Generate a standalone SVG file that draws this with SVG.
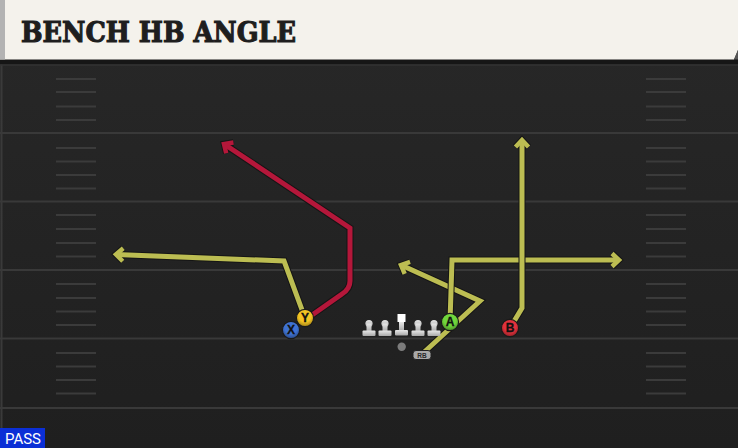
<svg xmlns="http://www.w3.org/2000/svg" width="738" height="448" viewBox="0 0 738 448">
  <defs>
    <linearGradient id="field" x1="0" y1="0" x2="0" y2="1">
      <stop offset="0" stop-color="#282828"/>
      <stop offset="1" stop-color="#1f1f1f"/>
    </linearGradient>
    <linearGradient id="ol" x1="0" y1="0" x2="0" y2="1">
      <stop offset="0" stop-color="#e8e8e8"/>
      <stop offset="1" stop-color="#a8a8a8"/>
    </linearGradient>
    <radialGradient id="shade" cx="0.5" cy="0.35" r="0.65">
      <stop offset="0.6" stop-color="#000" stop-opacity="0"/>
      <stop offset="1" stop-color="#000" stop-opacity="0.3"/>
    </radialGradient>
    <marker id="ao" markerUnits="userSpaceOnUse" orient="auto" markerWidth="30" markerHeight="30" refX="0" refY="0" viewBox="-15 -15 30 30" overflow="visible">
      <path d="M -7 -6.5 L 0 0 L -7 6.5" fill="none" stroke="#151515" stroke-width="6.5" stroke-linejoin="miter"/>
    </marker>
    <marker id="ay" markerUnits="userSpaceOnUse" orient="auto" markerWidth="30" markerHeight="30" refX="0" refY="0" viewBox="-15 -15 30 30" overflow="visible">
      <path d="M -7 -6.5 L 0 0 L -7 6.5" fill="none" stroke="#bcbd52" stroke-width="4.5" stroke-linejoin="miter"/>
    </marker>
    <marker id="ar" markerUnits="userSpaceOnUse" orient="auto" markerWidth="30" markerHeight="30" refX="0" refY="0" viewBox="-15 -15 30 30" overflow="visible">
      <path d="M -7 -6.5 L 0 0 L -7 6.5" fill="none" stroke="#b4173a" stroke-width="4.5" stroke-linejoin="miter"/>
    </marker>
    <style>
      .yard { stroke: #393939; stroke-width: 2; }
      .hash { stroke: #3b3b3b; stroke-width: 2; }
      .out { fill: none; stroke: #151515; stroke-width: 7; stroke-linejoin: miter; }
      .ylw { fill: none; stroke: #bcbd52; stroke-width: 5; stroke-linejoin: miter; }
      .red { fill: none; stroke: #b4173a; stroke-width: 5; stroke-linejoin: miter; }
      .pc { stroke: #1a1a1a; stroke-width: 1.2; }
      .sh { fill: url(#shade); }
      .pl { font-family: "Liberation Sans", Arial, sans-serif; font-weight: bold; font-size: 12px; fill: #111; text-anchor: middle; stroke: #111; stroke-width: 0.3; }
      .olp { fill: url(#ol); }
    </style>
  </defs>

  <!-- field -->
  <rect x="0" y="0" width="738" height="448" fill="url(#field)"/>
  <line x1="1.5" y1="59" x2="1.5" y2="448" stroke="#3a3a3a" stroke-width="2"/>

  <!-- yard lines -->
  <g id="yardlines">
    <line class="yard" x1="0" y1="133" x2="738" y2="133"/>
    <line class="yard" x1="0" y1="201.5" x2="738" y2="201.5"/>
    <line class="yard" x1="0" y1="270" x2="738" y2="270"/>
    <line class="yard" x1="0" y1="338.5" x2="738" y2="338.5"/>
    <line class="yard" x1="0" y1="408" x2="738" y2="408"/>
  </g>

  <!-- hash marks -->
  <g id="hashes">
    <path class="hash" d="M56 79H96M56 92H96M56 106.5H96M56 120H96M56 148H96M56 161.5H96M56 175H96M56 188.5H96M56 215H96M56 229H96M56 243H96M56 256.5H96M56 284H96M56 298H96M56 311.5H96M56 325H96M56 353H96M56 366.5H96M56 380H96M56 393.5H96"/>
    <path class="hash" d="M646 79H686M646 92H686M646 106.5H686M646 120H686M646 148H686M646 161.5H686M646 175H686M646 188.5H686M646 215H686M646 229H686M646 243H686M646 256.5H686M646 284H686M646 298H686M646 311.5H686M646 325H686M646 353H686M646 366.5H686M646 380H686M646 393.5H686"/>
  </g>

  <!-- header -->
  <g id="header">
    <rect x="0" y="59" width="738" height="5.5" fill="#161616"/>
    <line x1="0" y1="65" x2="738" y2="65" stroke="#333" stroke-width="1.5"/>
    <polygon points="0,0 738,0 738,50 734,59.5 0,59.5" fill="#f4f2ec"/>
    <polygon points="738,50 734,59.5 738,59.5" fill="#555"/>
    <rect x="0" y="0" width="5" height="59.5" fill="#b3b3b3"/>
    <text x="21" y="42" font-family="'DejaVu Serif', 'Liberation Serif', serif" font-weight="900" font-size="27" fill="#1e1e1e" stroke="#1e1e1e" stroke-width="1.1" stroke-linejoin="miter" textLength="275" lengthAdjust="spacingAndGlyphs">BENCH HB ANGLE</text>
  </g>

  <!-- routes -->
  <g id="connectors">
    <g id="route-y">
      <path class="out" marker-end="url(#ao)" d="M305 318 L284 261 L116 254.5"/>
      <path class="ylw" marker-end="url(#ay)" d="M305 318 L284 261 L116 254.5"/>
    </g>
    <g id="route-x">
      <path class="out" marker-end="url(#ao)" d="M305 320 L342 294 Q350 289 350 281 L350 228 L224 144"/>
      <path class="red" marker-end="url(#ar)" d="M305 320 L342 294 Q350 289 350 281 L350 228 L224 144"/>
    </g>
    <g id="route-rb">
      <path class="out" marker-end="url(#ao)" d="M421 355 L480 301 L401 265"/>
      <path class="ylw" marker-end="url(#ay)" d="M421 355 L480 301 L401 265"/>
    </g>
    <g id="route-a">
      <path class="out" marker-end="url(#ao)" d="M450 322 L452 260 L619 260"/>
      <path class="ylw" marker-end="url(#ay)" d="M450 322 L452 260 L619 260"/>
    </g>
    <g id="route-b">
      <path class="out" marker-end="url(#ao)" d="M510 328 L522 308 L522 140"/>
      <path class="ylw" marker-end="url(#ay)" d="M510 328 L522 308 L522 140"/>
    </g>
  </g>

  <!-- offensive line -->
  <g id="ol-1"><circle class="olp" cx="369" cy="323.5" r="3.6"/><rect class="olp" x="366.5" y="323.5" width="5" height="8"/><rect class="olp" x="362.5" y="330.5" width="13" height="5.5" rx="1"/></g>
  <g id="ol-2"><circle class="olp" cx="385" cy="323.5" r="3.6"/><rect class="olp" x="382.5" y="323.5" width="5" height="8"/><rect class="olp" x="378.5" y="330.5" width="13" height="5.5" rx="1"/></g>
  <g id="center"><rect x="397.5" y="314" width="8" height="8" fill="#ffffff"/><rect class="olp" x="399" y="322" width="5" height="9"/><rect class="olp" x="395" y="330" width="13" height="5.5" rx="1"/></g>
  <g id="ol-4"><circle class="olp" cx="418" cy="323.5" r="3.6"/><rect class="olp" x="415.5" y="323.5" width="5" height="8"/><rect class="olp" x="411.5" y="330.5" width="13" height="5.5" rx="1"/></g>
  <g id="ol-5"><circle class="olp" cx="434" cy="323.5" r="3.6"/><rect class="olp" x="431.5" y="323.5" width="5" height="8"/><rect class="olp" x="427.5" y="330.5" width="13" height="5.5" rx="1"/></g>

  <!-- QB -->
  <g id="qb"><circle cx="401.7" cy="346.7" r="4.2" fill="#7c7c7c"/></g>

  <!-- RB -->
  <g id="rb">
    <rect x="413" y="350.5" width="18" height="9" rx="3" fill="#a9a9a9" stroke="#222" stroke-width="1"/>
    <text x="422" y="358" font-family="'Liberation Sans', Arial, sans-serif" font-weight="bold" font-size="6.5" fill="#2a2a2a" text-anchor="middle">RB</text>
  </g>

  <!-- receivers -->
  <g id="player-x"><circle class="pc" cx="291" cy="330" r="8.6" fill="#3f72d2"/><circle class="sh" cx="291" cy="330" r="8"/><text class="pl" x="291" y="334.3">X</text></g>
  <g id="player-y"><circle class="pc" cx="305" cy="318" r="8.6" fill="#f3c423"/><circle class="sh" cx="305" cy="318" r="8"/><text class="pl" x="305" y="322.3">Y</text></g>
  <g id="player-a"><circle class="pc" cx="450" cy="322" r="8.6" fill="#70d63c"/><circle class="sh" cx="450" cy="322" r="8"/><text class="pl" x="450" y="326.3">A</text></g>
  <g id="player-b"><circle class="pc" cx="510" cy="328" r="8.6" fill="#e2323c"/><circle class="sh" cx="510" cy="328" r="8"/><text class="pl" x="510" y="332.3">B</text></g>

  <!-- play type -->
  <g id="pass-label">
    <rect x="0" y="428" width="45" height="20" fill="#0b2fd6"/>
    <text x="5" y="444" font-family="Roboto, 'Liberation Sans', sans-serif" font-size="15" fill="#ffffff" textLength="36" lengthAdjust="spacingAndGlyphs">PASS</text>
  </g>
</svg>
